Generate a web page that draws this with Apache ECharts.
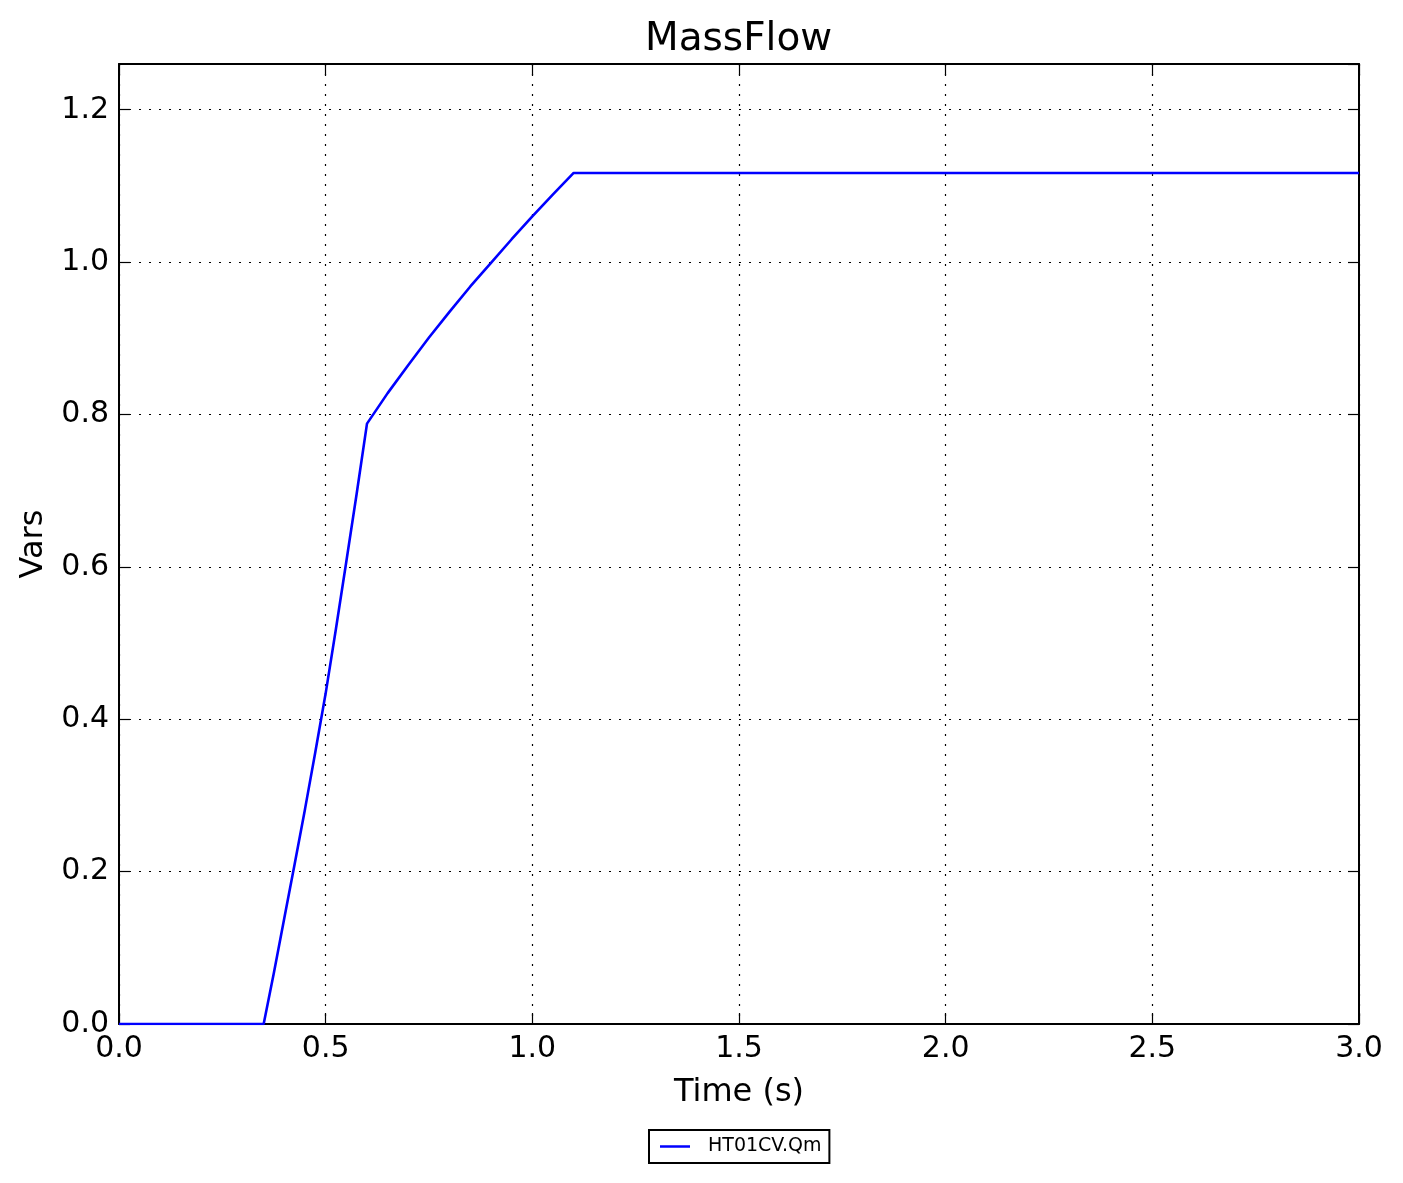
<!DOCTYPE html>
<html>
<head>
<meta charset="utf-8">
<script src="https://cdn.jsdelivr.net/npm/echarts@6/dist/echarts.min.js"></script>
<style>
html,body{margin:0;padding:0;background:#fff;}
#chart{width:1403px;height:1183px;}
</style>
</head>
<body>
<div id="chart"></div>
<script>
const chartTitle = 'MassFlow';
const seriesName = 'HT01CV.Qm';
const xAxisName = 'Time (s)';
const yAxisName = 'Vars';
const time = [0, 0.35, 0.375, 0.4, 0.425, 0.45, 0.475, 0.5, 0.525, 0.55, 0.575, 0.6,
              0.65, 0.7, 0.75, 0.8, 0.85, 0.9, 0.95, 1.0, 1.05, 1.1, 3.0];
const massFlow = [0, 0, 0.068, 0.139, 0.21, 0.282, 0.357, 0.434, 0.519, 0.607, 0.696, 0.788,
                  0.828, 0.865, 0.901, 0.935, 0.968, 0.999, 1.03, 1.06, 1.089, 1.117, 1.117];
const xRange = [0, 3.0];
const yRange = [0, 1.26];
const xStep = 0.5;
const yStep = 0.2;

const font = 'DejaVu Sans';
const chart = echarts.init(document.getElementById('chart'), null, {renderer: 'canvas'});

const gridStyle = {show: true, lineStyle: {color: '#000', width: 1.2, type: [2, 8]}};
const lineAx = {show: true, onZero: false, lineStyle: {color: '#000', width: 2}};
const tickIn = {show: true, inside: true, length: 11, lineStyle: {color: '#000', width: 1.2}};
const fmt = v => v.toFixed(1);

chart.setOption({
  animation: false,
  backgroundColor: '#fff',
  title: {
    text: chartTitle, left: 640, top: 15,
    textStyle: {fontFamily: font, fontSize: 39, fontWeight: 'normal', color: '#000'}
  },
  grid: {left: 119, right: 44, top: 64, bottom: 159, containLabel: false},
  legend: {
    data: [seriesName], top: 1130, left: 649,
    borderColor: '#000', borderWidth: 2, borderRadius: 0,
    padding: [7, 8, 7, 11],
    icon: 'rect', itemWidth: 30, itemHeight: 2.5, itemGap: 10,
    textStyle: {fontFamily: font, fontSize: 19, color: '#000', padding: [0, 0, 0, 13]}
  },
  xAxis: [{
    type: 'value', min: xRange[0], max: xRange[1], interval: xStep, position: 'bottom',
    name: xAxisName, nameLocation: 'middle', nameGap: 53,
    nameTextStyle: {fontFamily: font, fontSize: 32, color: '#000'},
    axisLine: lineAx, axisTick: tickIn, splitLine: gridStyle,
    axisLabel: {fontFamily: font, fontSize: 30, color: '#000', margin: 10, formatter: fmt}
  }, {
    type: 'value', min: xRange[0], max: xRange[1], interval: xStep, position: 'top',
    axisLine: lineAx, axisTick: tickIn, splitLine: {show: false}, axisLabel: {show: false}
  }],
  yAxis: [{
    type: 'value', min: yRange[0], max: yRange[1], interval: yStep, position: 'left',
    name: yAxisName, nameLocation: 'middle', nameGap: 69, nameRotate: 90,
    nameTextStyle: {fontFamily: font, fontSize: 32, color: '#000'},
    axisLine: lineAx, axisTick: tickIn, splitLine: gridStyle,
    axisLabel: {fontFamily: font, fontSize: 30, color: '#000', margin: 10, formatter: fmt, showMaxLabel: false}
  }, {
    type: 'value', min: yRange[0], max: yRange[1], interval: yStep, position: 'right',
    axisLine: lineAx, axisTick: tickIn, splitLine: {show: false}, axisLabel: {show: false}
  }],
  series: [{
    name: seriesName, type: 'line', xAxisIndex: 0, yAxisIndex: 0,
    data: time.map((t, i) => [t, massFlow[i]]),
    showSymbol: false, symbol: 'none',
    lineStyle: {color: '#0000ff', width: 2.6}, itemStyle: {color: '#0000ff'}
  }]
});
</script>
</body>
</html>
